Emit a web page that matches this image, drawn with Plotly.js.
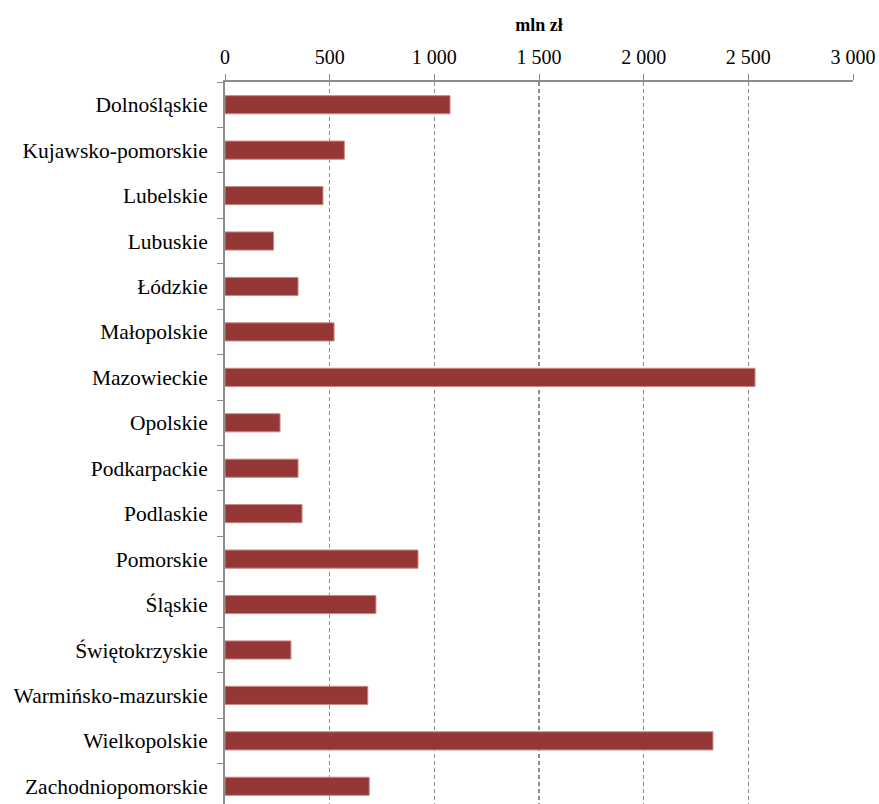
<!DOCTYPE html>
<html>
<head>
<meta charset="utf-8">
<script src="https://cdn.plot.ly/plotly-3.0.1.min.js"></script>
<style>
html, body { margin: 0; padding: 0; overflow: hidden; width: 879px; height: 804px; background: #fff; }
#chart { width: 879px; height: 830px; }
</style>
</head>
<body>
<div id="chart"></div>
<script>
const regions = [
  "Dolnośląskie", "Kujawsko-pomorskie", "Lubelskie", "Lubuskie", "Łódzkie",
  "Małopolskie", "Mazowieckie", "Opolskie", "Podkarpackie", "Podlaskie",
  "Pomorskie", "Śląskie", "Świętokrzyskie", "Warmińsko-mazurskie",
  "Wielkopolskie", "Zachodniopomorskie"
];
const values = [1075, 570, 468, 232, 349, 521, 2532, 263, 349, 368, 922, 721, 315, 682, 2331, 689];
const tickVals = [0, 500, 1000, 1500, 2000, 2500, 3000];
const tickText = ["0", "500", "1 000", "1 500", "2 000", "2 500", "3 000"];
const axisTitle = "mln zł";

const serif = "'Liberation Serif', 'Times New Roman', serif";

const trace = {
  type: "bar",
  orientation: "h",
  y: regions,
  x: values,
  marker: { color: "#953735", line: { color: "#c98a88", width: 1 } },
  hoverinfo: "x+y"
};

const layout = {
  width: 879,
  height: 830,
  margin: { l: 225, r: 26, t: 82, b: 21 },
  paper_bgcolor: "#ffffff",
  plot_bgcolor: "#ffffff",
  font: { family: serif, color: "#000", size: 20 },
  bargap: 0.6,
  showlegend: false,
  xaxis: {
    side: "top",
    range: [0, 3000],
    tickvals: tickVals,
    ticktext: tickText,
    ticks: "outside",
    ticklen: 6,
    tickcolor: "#8c8c8c",
    showline: true,
    linecolor: "#8c8c8c",
    linewidth: 2,
    showgrid: true,
    gridcolor: "#8c8c8c",
    gridwidth: 1.5,
    griddash: "4px,3px",
    zeroline: false,
    tickfont: { family: serif, size: 20 },
    ticklabelstandoff: 2,
    title: { text: "<b>" + axisTitle + "</b>", font: { family: serif, size: 18 }, standoff: 10 }
  },
  yaxis: {
    type: "category",
    autorange: "reversed",
    ticks: "outside",
    tickson: "boundaries",
    ticklen: 6,
    tickcolor: "#8c8c8c",
    showline: true,
    linecolor: "#8c8c8c",
    linewidth: 2,
    showgrid: false,
    zeroline: false,
    tickfont: { family: serif, size: 21.5 },
    ticklabelstandoff: 11
  }
};

Plotly.newPlot("chart", [trace], layout, { displayModeBar: false, staticPlot: true });
</script>
</body>
</html>
